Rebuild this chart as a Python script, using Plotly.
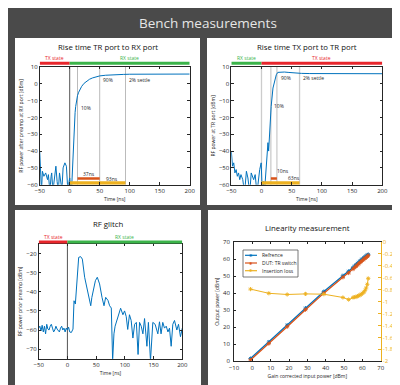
import plotly.graph_objects as go

# ------------------------- data -------------------------
# Panel 1: rise time TR port -> RX port
tl_t = [-50, -48, -47, -45.5, -43, -40, -37, -35.5, -34, -33,
        -31, -30, -28, -26, -23, -21, -19, -17, -15, -13,
        -11, -8, -5.5, -3, -1, 0, 1.5, 3, 4, 5,
        6, 7, 8, 9, 10, 11, 12, 13, 15, 17,
        20, 24, 28, 33, 38, 43, 50, 60, 70, 80,
        90, 100, 125, 150, 175, 200]
tl_v = [-40, -54, -64, -52, -55, -53, -57, -54, -58, -64,
        -55, -53, -64, -56, -49, -58, -64, -53, -58, -63,
        -50, -47, -49, -64, -58, -56, -62, -64, -56, -46,
        -36, -28, -22, -17, -13.5, -10.5, -8.5, -7, -5, -3.5,
        -1.5, 0.3, 1.6, 2.7, 3.5, 4.1, 4.7, 5.1, 5.4, 5.6,
        5.6, 5.7, 5.8, 5.8, 5.8, 5.8]
tl_marks = [0, 13, 50, 93]
tl_rise = [13, 50]      # 37 ns
tl_settle = [0, 93]     # 93 ns
tl_states = [["TX state", -50, 0, "red"], ["RX state", 0, 200, "green"]]

# Panel 2: rise time TX port -> TR port
tr_t = [-50, -48, -46, -44, -42, -40, -38, -36, -34, -31,
        -28, -25, -22.5, -19.5, -17, -13, -10.5, -7.5, -3, -0.5,
        1.3, 3, 5, 8, 9.6, 10.7, 11.8, 13.5, 16, 19,
        21.7, 24.5, 27, 32, 38, 44, 49, 55, 60, 66,
        80, 100, 130, 160, 200]
tr_v = [-40, -49, -47, -53, -51, -55, -53, -57, -54, -57,
        -65, -52, -56, -65, -53, -57, -54, -65, -51, -47,
        -65, -58, -64, -46, -40, -35, -40, -28, -13.4, -2.5,
        2.5, 5.4, 6.8, 7.1, 7.0, 6.8, 6.6, 6.4, 6.3, 6.2,
        6.1, 6.1, 6.0, 6.0, 6.0]
tr_marks = [0, 15.5, 25.5, 63]
tr_rise = [15.5, 25.5]  # 10 ns
tr_settle = [0, 63]     # 63 ns
tr_states = [["RX state", -50, 0, "green"], ["TX state", 0, 200, "red"]]

# Panel 3: RF glitch
bl_t = [-50, -48, -46, -44, -42, -40, -38, -36, -34, -32,
        -30, -28, -26, -24, -22, -20, -18, -16, -14, -12,
        -10, -8, -6, -4, -2, 0, 2, 4, 6.8, 9.7,
        11.5, 13.8, 17.3, 19.6, 23, 26, 30, 33, 36, 38.5,
        40.6, 42.5, 44.6, 48.7, 52, 56, 60.2, 63.7, 66.6, 70.6,
        73.5, 76.4, 78.7, 81, 83, 85, 88, 92.6, 96.6, 99.5,
        102.4, 105, 108, 111, 114, 117, 120, 123, 125.6, 128.5,
        131.4, 134.3, 138.4, 141, 144.6, 148.7, 152.7, 155, 157.4, 160.3,
        163, 166, 169, 172, 175, 177.7, 180.6, 183.5, 186.4, 190.5,
        193.4, 196.8, 200]
bl_v = [-59, -58, -60.5, -57.5, -61, -58, -62, -57, -59.5, -60,
        -58, -57, -59, -61, -60, -58, -59.5, -60.5, -61, -59,
        -58, -60, -59, -61, -59, -60, -58.5, -61, -61.3, -59.5,
        -44.7, -46.4, -34.2, -22, -21.6, -22.9, -32.4, -37, -41.2, -45,
        -47.3, -43, -39.5, -34.2, -32.4, -35.9, -42.9, -47.3, -42.9, -44.5,
        -47.3, -48.5, -76, -62, -58, -55.9, -53, -48.6, -52, -50,
        -53, -59.7, -52, -55, -64.2, -57, -56, -72.8, -56, -58,
        -62, -54, -68.5, -56, -76, -56, -57, -60, -62, -55.7,
        -62, -56, -59, -58, -61, -59, -68.5, -57, -55, -60,
        -57, -63.5, -59]
bl_marks = [0]
bl_states = [["TX state", -50, 0, "red"], ["RX state", 0, 200, "green"]]

# Panel 4: linearity measurement
lin_in = [-1.0, 9.0, 19.0, 29.0, 39.0, 49.4, 52.5, 54.9, 55.8, 56.6,
          57.3, 58.0, 58.7, 59.4, 60.1, 60.8, 61.5, 62.1, 62.7, 63.2]
ref_out = [1.6, 11.3, 21.2, 31.2, 40.9, 50.2, 52.8, 55.0, 55.9, 56.7,
           57.4, 58.1, 58.8, 59.5, 60.1, 60.7, 61.3, 61.8, 62.3, 62.7]
dut_out = [0.8, 10.4, 20.3, 30.3, 40.0, 49.3, 51.8, 54.1, 55.0, 55.8,
           56.5, 57.2, 57.9, 58.6, 59.2, 59.9, 60.5, 61.0, 61.6, 62.1]
ins_loss = [-0.79, -0.86, -0.88, -0.87, -0.875, -0.93, -0.965, -0.93, -0.925, -0.918,
            -0.91, -0.90, -0.89, -0.875, -0.86, -0.84, -0.81, -0.77, -0.71, -0.61]
lin_names = ["Refrence", "DUT: TR switch", "Insertion loss"]

time_ticks = [-50, 0, 50, 100, 150, 200]
rise_yticks = [-60, -50, -40, -30, -20, -10, 0, 10]
glitch_yticks = [-70, -60, -50, -40, -30, -20]
lin_xticks = [-10, 0, 10, 20, 30, 40, 50, 60, 70]
lin_yticks = [0, 10, 20, 30, 40, 50, 60, 70]
il_ticks = [0, -0.2, -0.4, -0.6, -0.8, -1, -1.2, -1.4, -1.6, -1.8, -2]
il_ticktext = ["0", "-0.2", "-0.4", "-0.6", "-0.8", "-1", "-1.2", "-1.4", "-1.6", "-1.8", "-2"]

# ------------------------- style -------------------------
W, H = 400, 385
FONT = "Open Sans"
BLUE, ORANGE, YELLOW = "#0072BD", "#D95319", "#EDB120"
STATE_COL = {"red": "#E8262C", "green": "#3BB44A"}
AX = "#262626"
BG = "#4A4A4A"


def px(x):
    return x / W


def py(y):
    return 1 - y / H


fig = go.Figure()


def axis_common(**kw):
    d = dict(showline=True, linecolor=AX, linewidth=0.8, mirror="ticks",
             ticks="inside", ticklen=2.5, tickwidth=0.6, tickcolor=AX,
             tickfont=dict(family=FONT, size=6, color=AX),
             showgrid=False, zeroline=False, automargin=False)
    d.update(kw)
    return d


# panels (white cards)
cards = [(7, 30, 192, 197), (199, 30, 393, 197), (7, 202, 193, 380), (200, 202, 393, 380)]
shapes = []
for x0, y0, x1, y1 in cards:
    shapes.append(dict(type="rect", xref="paper", yref="paper", x0=px(x0), x1=px(x1),
                       y0=py(y1), y1=py(y0), fillcolor="white", line=dict(width=0), layer="below"))

annotations = [dict(text="Bench measurements", xref="paper", yref="paper", x=0.5, y=py(15),
                    showarrow=False, font=dict(family=FONT, size=13.5, color="#E6E6E6"),
                    xanchor="center", yanchor="middle")]


def add_title(text, xc, yc):
    annotations.append(dict(text=text, xref="paper", yref="paper", x=px(xc), y=py(yc),
                            showarrow=False, font=dict(family=FONT, size=7.8, color="#111111"),
                            xanchor="center", yanchor="middle"))


def add_states(states, xref, bar_y, label_y):
    for name, a, b, c in states:
        shapes.append(dict(type="line", xref=xref, yref="paper", x0=a, x1=b,
                           y0=py(bar_y), y1=py(bar_y), line=dict(color=STATE_COL[c], width=3)))
        annotations.append(dict(text=name, xref=xref, yref="paper", x=(a + b) / 2, y=py(label_y),
                                showarrow=False, font=dict(family=FONT, size=5, color=STATE_COL[c]),
                                xanchor="center", yanchor="middle"))


def add_text(text, xref, yref, x, y, anchor="left"):
    annotations.append(dict(text=text, xref=xref, yref=yref, x=x, y=y, showarrow=False,
                            font=dict(family=FONT, size=5, color=AX), xanchor=anchor, yanchor="middle"))


# ---------- panel 1 ----------
for i, m in enumerate(tl_marks):
    fig.add_trace(go.Scatter(x=[m, m], y=[rise_yticks[0], rise_yticks[-1]], mode="lines",
                             line=dict(color="#555555" if i == 0 else "#BBBBBB", width=1),
                             xaxis="x", yaxis="y", showlegend=False, hoverinfo="skip"))
fig.add_trace(go.Scatter(x=tl_t, y=tl_v, mode="lines", line=dict(color=BLUE, width=1),
                         xaxis="x", yaxis="y", showlegend=False))
fig.add_trace(go.Scatter(x=tl_settle, y=[-59, -59], mode="lines", line=dict(color=YELLOW, width=3.4),
                         xaxis="x", yaxis="y", showlegend=False))
fig.add_trace(go.Scatter(x=tl_rise, y=[-56.3, -56.3], mode="lines", line=dict(color=ORANGE, width=2.6),
                         xaxis="x", yaxis="y", showlegend=False))
add_title("Rise time TR port to RX port", 100, 39.5)
add_states(tl_states, "x", 55.3, 50.5)
add_text("10%", "x", "y", tl_marks[1] + 2, -14.4)
add_text("90%", "x", "y", tl_marks[2] + 1.5, 2.5)
add_text("2% settle", "x", "y", tl_marks[3] + 2.5, 2.5)
add_text("%dns" % (tl_rise[1] - tl_rise[0]), "x", "y", sum(tl_rise) / 2, -53.6, "center")
add_text("%dns" % (tl_settle[1] - tl_settle[0]), "x", "y", 71, -56.8, "center")

# ---------- panel 2 ----------
for m in tr_marks:
    fig.add_trace(go.Scatter(x=[m, m], y=[rise_yticks[0], rise_yticks[-1]], mode="lines",
                             line=dict(color="#CCCCCC", width=1.3),
                             xaxis="x2", yaxis="y2", showlegend=False, hoverinfo="skip"))
fig.add_trace(go.Scatter(x=tr_t, y=tr_v, mode="lines", line=dict(color=BLUE, width=1),
                         xaxis="x2", yaxis="y2", showlegend=False))
fig.add_trace(go.Scatter(x=tr_settle, y=[-59, -59], mode="lines", line=dict(color=YELLOW, width=3.4),
                         xaxis="x2", yaxis="y2", showlegend=False))
fig.add_trace(go.Scatter(x=tr_rise, y=[-56.3, -56.3], mode="lines", line=dict(color=ORANGE, width=2.6),
                         xaxis="x2", yaxis="y2", showlegend=False))
add_title("Rise time TX port to TR port", 299, 39.5)
add_states(tr_states, "x2", 55.3, 50.5)
add_text("10%", "x2", "y2", 17.3, -13.4)
add_text("90%", "x2", "y2", 28.4, 3.3)
add_text("2% settle", "x2", "y2", 65.9, 3.3)
add_text("%dns" % round(tr_rise[1] - tr_rise[0]), "x2", "y2", 35.5, -51.7, "center")
add_text("%dns" % (tr_settle[1] - tr_settle[0]), "x2", "y2", 54, -56.2, "center")

# ---------- panel 3 ----------
for m in bl_marks:
    fig.add_trace(go.Scatter(x=[m, m], y=[-75, -15], mode="lines", line=dict(color="#555555", width=1),
                             xaxis="x3", yaxis="y3", showlegend=False, hoverinfo="skip"))
fig.add_trace(go.Scatter(x=bl_t, y=bl_v, mode="lines", line=dict(color=BLUE, width=1),
                         xaxis="x3", yaxis="y3", showlegend=False))
add_title("RF glitch", 100, 215.7)
add_states(bl_states, "x3", 234, 229.3)

# ---------- panel 4 ----------
mk = dict(symbol="asterisk-open", size=3.5)
fig.add_trace(go.Scatter(x=lin_in, y=ref_out, mode="lines+markers", name=lin_names[0],
                         line=dict(color=BLUE, width=1.3), marker=dict(color=BLUE, line=dict(color=BLUE, width=0.9), **mk),
                         xaxis="x4", yaxis="y4", showlegend=False))
fig.add_trace(go.Scatter(x=lin_in, y=dut_out, mode="lines+markers", name=lin_names[1],
                         line=dict(color=ORANGE, width=1.3), marker=dict(color=ORANGE, line=dict(color=ORANGE, width=0.9), **mk),
                         xaxis="x4", yaxis="y4", showlegend=False))
fig.add_trace(go.Scatter(x=lin_in, y=ins_loss, mode="lines+markers", name=lin_names[2],
                         line=dict(color=YELLOW, width=1), marker=dict(color=YELLOW, line=dict(color=YELLOW, width=0.9), **mk),
                         xaxis="x4", yaxis="y5", showlegend=False))
add_title("Linearity measurement", 299, 220)

# custom legend box
shapes.append(dict(type="rect", xref="paper", yref="paper", x0=px(235), x1=px(290),
                   y0=py(269), y1=py(242), fillcolor="white", line=dict(color="#555555", width=0.8)))
for i, (nm, col) in enumerate(zip(lin_names, [BLUE, ORANGE, YELLOW])):
    yy = 247.3 + i * 7.7
    shapes.append(dict(type="line", xref="paper", yref="paper", x0=px(237), x1=px(249),
                       y0=py(yy), y1=py(yy), line=dict(color=col, width=1.2)))
    annotations.append(dict(text="✱", xref="paper", yref="paper", x=px(243), y=py(yy), showarrow=False,
                            font=dict(size=4, color=col), xanchor="center", yanchor="middle"))
    annotations.append(dict(text=nm, xref="paper", yref="paper", x=px(251.5), y=py(yy), showarrow=False,
                            font=dict(family=FONT, size=5, color=AX), xanchor="left", yanchor="middle"))

ttl = lambda t: dict(text=t, font=dict(family=FONT, size=5, color=AX), standoff=3)

d_tl_x = [px(31.7), px(181.7)]
d_top_y = [py(176.7), py(59)]
d_tr_x = [px(223.3), px(374.3)]
d_bl_x = [px(30.7), px(174.3)]
d_bl_y = [py(350.7), py(236)]
d_br_x = [px(226), px(372.7)]
d_br_y = [py(353.3), py(234)]

fig.update_layout(
    width=W, height=H, margin=dict(l=0, r=0, t=0, b=0),
    paper_bgcolor=BG, plot_bgcolor="white", showlegend=False,
    font=dict(family=FONT),
    xaxis=axis_common(domain=d_tl_x, anchor="y", range=[-50, 200], tickvals=time_ticks, title=ttl("Time [ns]")),
    yaxis=axis_common(domain=d_top_y, anchor="x", range=[-60, 10], tickvals=rise_yticks,
                      title=ttl("RF power after preamp at RX port [dBm]")),
    xaxis2=axis_common(domain=d_tr_x, anchor="y2", range=[-50, 200], tickvals=time_ticks, title=ttl("Time [ns]")),
    yaxis2=axis_common(domain=d_top_y, anchor="x2", range=[-60, 10], tickvals=rise_yticks,
                       title=ttl("RF power at TR port [dBm]")),
    xaxis3=axis_common(domain=d_bl_x, anchor="y3", range=[-50, 200], tickvals=time_ticks, title=ttl("Time [ns]")),
    yaxis3=axis_common(domain=d_bl_y, anchor="x3", range=[-75, -15], tickvals=glitch_yticks,
                       title=ttl("RF power prior preamp [dBm]")),
    xaxis4=axis_common(domain=d_br_x, anchor="y4", range=[-10, 70], tickvals=lin_xticks, ticklabelstandoff=1,
                       title=ttl("Gain corrected input power [dBm]")),
    yaxis4=axis_common(domain=d_br_y, anchor="x4", range=[0, 70], tickvals=lin_yticks, mirror=False,
                       ticklabelstandoff=2, title=ttl("Output power [dBm]")),
    yaxis5=axis_common(domain=d_br_y, anchor="x4", overlaying="y4", side="right", range=[-2, 0],
                       tickvals=il_ticks, ticktext=il_ticktext, mirror=False,
                       linecolor=YELLOW, tickcolor=YELLOW,
                       tickfont=dict(family=FONT, size=6, color=YELLOW),
                       title=dict(text="Insertion loss TR switch [dB]", font=dict(family=FONT, size=5, color=YELLOW), standoff=3)),
    shapes=shapes, annotations=annotations,
)

fig.write_html("out.html")
